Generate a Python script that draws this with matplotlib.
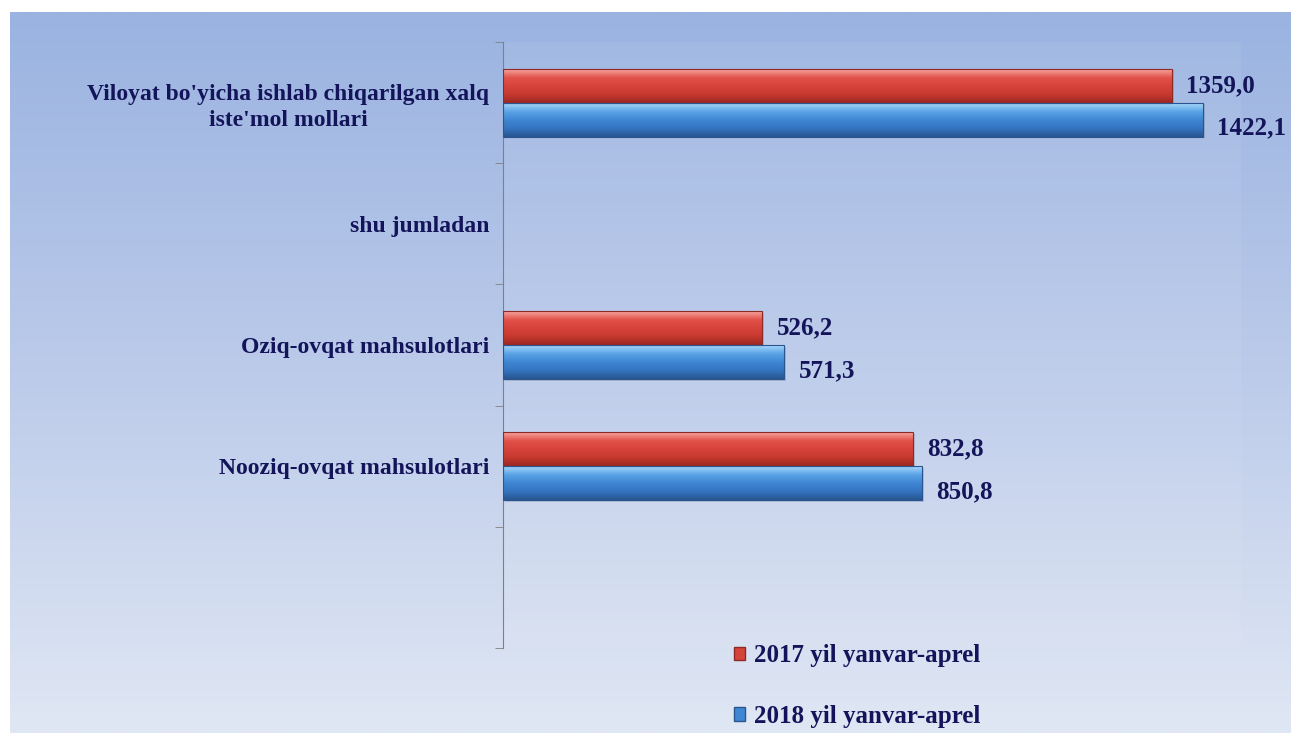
import numpy as np
import matplotlib
matplotlib.use("Agg")
import matplotlib.pyplot as plt
from matplotlib.colors import LinearSegmentedColormap
from matplotlib.patches import Rectangle, Patch

categories = ["Viloyat bo'yicha ishlab chiqarilgan xalq\niste'mol mollari",
              "shu jumladan",
              "Oziq-ovqat mahsulotlari",
              "Nooziq-ovqat mahsulotlari"]
series_names = ["2017 yil yanvar-aprel", "2018 yil yanvar-aprel"]
values_2017 = [1359.0, None, 526.2, 832.8]
values_2018 = [1422.1, None, 571.3, 850.8]
labels_2017 = ["1359,0", "", "526,2", "832,8"]
labels_2018 = ["1422,1", "", "571,3", "850,8"]

W, H = 1291, 733
fig = plt.figure(figsize=(W / 100, H / 100), dpi=100)
fig.patch.set_facecolor("white")

# gradient background
bg = fig.add_axes([10 / W, 0, 1 - 10 / W, 1 - 12 / H])
bg_cmap = LinearSegmentedColormap.from_list("bg", ["#9ab3e1", "#bccbea", "#e0e7f4"])
bg.imshow(np.linspace(0, 1, 256).reshape(-1, 1), aspect="auto", cmap=bg_cmap,
          extent=[0, 1, 0, 1], origin="upper")
bg.set_axis_off()

txt_color = "#14145a"
serif = ["Liberation Serif", "DejaVu Serif"]

ax = fig.add_axes([503 / W, 1 - 648 / H, (1241 - 503) / W, 606 / H])
ax.patch.set_facecolor("white")
ax.patch.set_alpha(0.06)
ax.set_xlim(0, 1500)
ax.set_ylim(4.5, -0.5)

bar_h = 0.28
red_cmap = LinearSegmentedColormap.from_list("r", ["#f5a49d", "#e2524a", "#d6433a", "#c7392f", "#9c2822"])
blue_cmap = LinearSegmentedColormap.from_list("b", ["#a6d8fb", "#5aa3e6", "#3f86d3", "#3574c0", "#27558f"])

def draw_bars(vals, offset, cmap, edge):
    ys, xs = [], []
    for i, v in enumerate(vals):
        if v is not None:
            ys.append(i + offset)
            xs.append(v)
    bars = ax.barh(ys, xs, height=bar_h, color="none", edgecolor=edge, linewidth=0.8, zorder=3)
    for b in bars:
        x0, y0 = b.get_x(), b.get_y()
        w, h = b.get_width(), b.get_height()
        im = ax.imshow(np.linspace(0, 1, 64).reshape(-1, 1), cmap=cmap, aspect="auto",
                       extent=[x0, x0 + w, y0, y0 + h], origin="lower", zorder=2)
        im.set_clip_path(b)
        ax.add_patch(Rectangle((x0 + 4, y0 + 0.015), w, h, facecolor="#000000", alpha=0.12,
                               edgecolor="none", zorder=1))
    return bars

draw_bars(values_2017, -0.14, red_cmap, "#8e2a25")
draw_bars(values_2018, 0.14, blue_cmap, "#2a5590")

for i, (v, lab) in enumerate(zip(values_2017, labels_2017)):
    if v is not None:
        ax.text(v + 30, i - 0.14, lab, va="center", ha="left", fontsize=18,
                fontweight="bold", family=serif, color=txt_color, zorder=5)
for i, (v, lab) in enumerate(zip(values_2018, labels_2018)):
    if v is not None:
        ax.text(v + 30, i + 0.21, lab, va="center", ha="left", fontsize=18,
                fontweight="bold", family=serif, color=txt_color, zorder=5, clip_on=False)

ax.set_yticks(range(len(categories)))
ax.set_yticklabels(categories, fontsize=17, fontweight="bold", family=serif,
                   color=txt_color, multialignment="center", linespacing=1.3)
ax.tick_params(axis="y", which="major", length=0, pad=10)
ax.set_yticks(np.arange(-0.5, 5.0, 1.0), minor=True)
ax.tick_params(axis="y", which="minor", length=6, color="#808080", direction="out")
ax.set_xticks([])
for s in ["top", "right", "bottom"]:
    ax.spines[s].set_visible(False)
ax.spines["left"].set_color("#808080")

handles = [Patch(facecolor="#d4443b", edgecolor="#8e2a25"),
           Patch(facecolor="#3f86d3", edgecolor="#2a5590")]
fig.legend(handles, series_names, loc="center left",
           bbox_to_anchor=(711 / W, 1 - 686 / H), frameon=False,
           prop={"family": serif, "weight": "bold", "size": 18},
           labelcolor=txt_color, handlelength=0.45, handleheight=0.45,
           handletextpad=0.35, labelspacing=1.5)

fig.savefig("out.png", dpi=100)
